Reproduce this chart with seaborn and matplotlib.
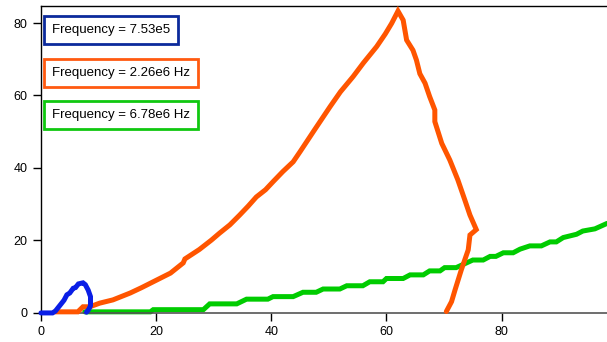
import matplotlib
matplotlib.use("Agg")
import matplotlib.pyplot as plt
import seaborn as sns
import pandas as pd

# Blue trace (7.53e5)
blue_x = [0, 2.0, 2.5, 3.0, 3.6, 4.0, 4.5, 5.0, 5.6, 6.0, 6.5, 7.0, 7.3, 7.7, 8.2, 8.6, 8.6, 8.3, 7.9]
blue_y = [0, 0, 0.5, 1.5, 2.7, 3.5, 5.0, 5.5, 6.8, 7.0, 8.0, 8.2, 8.3, 7.8, 6.3, 4.5, 2.0, 1.0, 0.2]

# Orange trace (2.26e6 Hz)
orange_x = [2.4, 6.4, 7.3, 8.5, 10.2, 12.5, 15.5, 17.5, 20.0, 22.5, 24.7, 25.0, 27.5, 29.6, 31.0,
            32.8, 34.5, 36.0, 37.4, 39.0, 40.3, 42.0, 43.8, 45.0, 47.5, 50.2, 52.0, 54.2, 56.0,
            58.3, 59.8, 60.9, 62.0, 62.9, 63.5, 64.6, 65.2, 65.8, 66.7, 67.5, 68.4, 68.4, 69.6,
            71.0, 72.4, 73.6, 74.5, 75.6, 74.5, 74.2, 73.0, 71.9, 71.3, 70.4]
orange_y = [0.3, 0.3, 1.7, 1.7, 2.7, 3.6, 5.5, 7.0, 9.0, 11.0, 13.8, 14.9, 17.5, 20.1, 22.0,
            24.3, 27.0, 29.5, 32.0, 34.0, 36.2, 39.0, 41.7, 44.5, 50.5, 56.9, 61.0, 65.2, 69.0,
            73.5, 77.0, 79.9, 83.3, 80.8, 75.3, 72.5, 69.8, 66.0, 63.4, 59.7, 56.0, 52.8, 46.8,
            42.2, 36.7, 31.2, 27.0, 23.0, 21.5, 17.4, 11.9, 6.3, 3.1, 0.4]

# Green trace (6.78e6 Hz)
green_x = [7.6, 19.0, 19.5, 28.2, 29.3, 34.0, 35.7, 39.4, 40.3, 43.8, 45.5, 47.8, 49.0, 51.9,
           53.1, 55.9, 57.1, 59.4, 60.0, 62.9, 64.1, 66.4, 67.5, 69.3, 70.1, 72.1, 75.0, 76.8,
           78.0, 79.0, 80.3, 82.0, 83.2, 84.9, 86.9, 88.4, 89.5, 90.7, 93.0, 94.1, 96.2, 98.3]
green_y = [0.3, 0.3, 0.9, 0.9, 2.5, 2.5, 3.8, 3.8, 4.5, 4.5, 5.7, 5.7, 6.6, 6.6,
           7.5, 7.5, 8.6, 8.6, 9.5, 9.5, 10.5, 10.5, 11.6, 11.6, 12.5, 12.5, 14.6, 14.6,
           15.6, 15.6, 16.6, 16.6, 17.6, 18.5, 18.5, 19.6, 19.6, 20.8, 21.7, 22.6, 23.2, 24.7]

labels = ["Frequency = 7.53e5", "Frequency = 2.26e6 Hz", "Frequency = 6.78e6 Hz"]
line_colors = ["#0a1ee6", "#ff5500", "#00cc00"]
box_colors = ["#0c2a9c", "#ff5a10", "#10c810"]

frames = []
for name, xs, ys in zip(labels, [blue_x, orange_x, green_x], [blue_y, orange_y, green_y]):
    frames.append(pd.DataFrame({"x": xs, "y": ys, "series": name, "order": range(len(xs))}))
df = pd.concat(frames, ignore_index=True)

sns.set_style("ticks")
plt.rcParams["font.family"] = ["Liberation Sans", "DejaVu Sans"]

fig = plt.figure(figsize=(6.07, 3.42), dpi=100)
ax = fig.add_axes([0.0675, 0.085, 0.9325, 0.8975])

sns.lineplot(data=df, x="x", y="y", hue="series", palette=dict(zip(labels, line_colors)),
             sort=False, estimator=None, units="series", linewidth=3.6, legend=False, ax=ax,
             clip_on=False)
for ln, z in zip(ax.lines, [4, 3, 2]):
    ln.set_zorder(z)
    ln.set_solid_joinstyle("miter")

ax.set_xlim(0, 98.3)
ax.set_ylim(0, 84.7)
ax.set_xticks([0, 20, 40, 60, 80])
ax.set_yticks([0, 20, 40, 60, 80])
ax.set_xlabel("")
ax.set_ylabel("")
ax.tick_params(axis="both", direction="out", length=6, width=1, labelsize=9, colors="black")
ax.spines["right"].set_visible(False)
for s in ["left", "top"]:
    ax.spines[s].set_color("black")
    ax.spines[s].set_linewidth(1)
ax.spines["bottom"].set_color("#555555")
ax.spines["bottom"].set_linewidth(1.2)

ypos = [0.922, 0.782, 0.645]
for lab, bc, yy in zip(labels, box_colors, ypos):
    ax.text(0.0195, yy, lab, transform=ax.transAxes, ha="left", va="center", fontsize=9.5,
            color="black", zorder=10,
            bbox=dict(boxstyle="square,pad=0.6", facecolor="white", edgecolor=bc, linewidth=2))

fig.savefig("out.png", dpi=100)
